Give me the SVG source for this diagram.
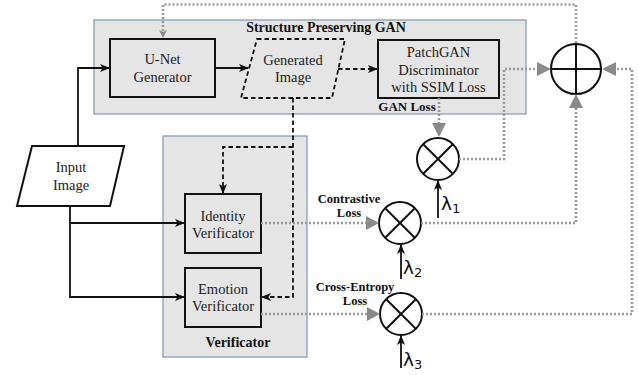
<svg xmlns="http://www.w3.org/2000/svg" width="639" height="375" viewBox="0 0 639 375">
<defs>
<style>
.grp{fill:#e5e5e5;stroke:#7f96b2;stroke-width:1.2}
.box{fill:none;stroke:#111;stroke-width:2}
.t{font-family:"Liberation Serif","Times New Roman",serif;font-size:14.5px;fill:#222;text-anchor:middle}
.b{font-family:"Liberation Serif","Times New Roman",serif;font-weight:bold;fill:#111;text-anchor:middle}
.lam{font-family:"DejaVu Sans","Noto Sans",sans-serif;font-size:18.5px;fill:#111}
.sub{font-size:13px}
.solid{fill:none;stroke:#111;stroke-width:1.8}
.dash{fill:none;stroke:#111;stroke-width:1.8;stroke-dasharray:4.5 3}
.dot{fill:none;stroke:#9a9a9a;stroke-width:2.6;stroke-dasharray:2 2}
.circ{fill:none;stroke:#111;stroke-width:2}
.tri{fill:#8a8a8a}
</style>
<marker id="ah" viewBox="0 0 10 8" refX="9" refY="4" markerWidth="10" markerHeight="8" markerUnits="userSpaceOnUse" orient="auto">
<path d="M0,0 L10,4 L0,8 L2.5,4 z" fill="#111"/>
</marker>
</defs>
<rect width="639" height="375" fill="#fff"/>

<g id="gan-group">
<rect class="grp" x="94" y="20" width="432" height="94"/>
<text class="b" x="326" y="32" font-size="14">Structure Preserving GAN</text>
<text class="b" x="407" y="111" font-size="13">GAN Loss</text>
</g>
<g id="verificator-group">
<rect class="grp" x="163" y="136" width="144" height="221"/>
<text class="b" x="238" y="347" font-size="14">Verificator</text>
</g>

<g id="unet">
<rect class="box" x="110" y="39" width="105" height="58"/>
<text class="t" x="162.5" y="64">U-Net</text>
<text class="t" x="162.5" y="82">Generator</text>
</g>
<g id="generated">
<polygon points="257,39 345,39 332,98 241,98" fill="none" stroke="#111" stroke-width="1.8" stroke-dasharray="4.5 3"/>
<text class="t" x="293" y="65">Generated</text>
<text class="t" x="293" y="82">Image</text>
</g>
<g id="patchgan">
<rect class="box" x="378" y="40" width="121" height="58"/>
<text class="t" x="438.5" y="57">PatchGAN</text>
<text class="t" x="438.5" y="75">Discriminator</text>
<text class="t" x="438.5" y="92">with SSIM Loss</text>
</g>
<g id="input">
<polygon points="32,146 124,146 110,206 17,206" fill="#fff" stroke="#111" stroke-width="2"/>
<text class="t" x="71" y="172">Input</text>
<text class="t" x="71" y="190">Image</text>
</g>
<g id="identity">
<rect class="box" x="185" y="194" width="76" height="59"/>
<text class="t" x="223" y="221">Identity</text>
<text class="t" x="223" y="238">Verificator</text>
</g>
<g id="emotion">
<rect class="box" x="185" y="268" width="76" height="59"/>
<text class="t" x="223" y="294">Emotion</text>
<text class="t" x="223" y="311">Verificator</text>
</g>

<g id="sum">
<circle class="circ" cx="576" cy="69" r="25"/>
<path class="circ" d="M551,69 H601 M576,44 V94"/>
</g>
<g id="mul1">
<circle class="circ" cx="438" cy="159" r="21"/>
<path class="circ" d="M423.2,144.2 L452.8,173.8 M452.8,144.2 L423.2,173.8"/>
</g>
<g id="mul2">
<circle class="circ" cx="400" cy="223" r="21"/>
<path class="circ" d="M385.2,208.2 L414.8,237.8 M414.8,208.2 L385.2,237.8"/>
<text class="b" x="349" y="203" font-size="12.5">Contrastive</text>
<text class="b" x="349" y="217" font-size="12.5">Loss</text>
</g>
<g id="mul3">
<circle class="circ" cx="401" cy="314" r="21"/>
<path class="circ" d="M386.2,299.2 L415.8,328.8 M415.8,299.2 L386.2,328.8"/>
<text class="b" x="355" y="291" font-size="12.5">Cross-Entropy</text>
<text class="b" x="355" y="305" font-size="12.5">Loss</text>
</g>
<g id="lambda1"><text class="lam" x="441" y="210">λ<tspan class="sub" dy="3">1</tspan></text></g>
<g id="lambda2"><text class="lam" x="403" y="274">λ<tspan class="sub" dy="3">2</tspan></text></g>
<g id="lambda3"><text class="lam" x="403" y="366">λ<tspan class="sub" dy="3">3</tspan></text></g>

<g id="connectors">
<path class="solid" d="M78,146 V68 H109" marker-end="url(#ah)"/>
<path class="solid" d="M215,68 H248" marker-end="url(#ah)"/>
<path class="solid" d="M70,206 V297 H184" marker-end="url(#ah)"/>
<path class="solid" d="M70,223 H184" marker-end="url(#ah)"/>
<path class="dash" d="M338,69 H377" marker-end="url(#ah)"/>
<path class="dash" d="M293,98 V297 H262" marker-end="url(#ah)"/>
<path class="dash" d="M293,147 H223 V193" marker-end="url(#ah)"/>
<path class="solid" d="M438,218 V181" marker-end="url(#ah)"/>
<path class="solid" d="M401,279 V245" marker-end="url(#ah)"/>
<path class="solid" d="M401,368 V336" marker-end="url(#ah)"/>

<path class="dot" d="M163,31 V4.5 H576 V44"/>
<path d="M159,30 L163,38 L167,30 L163,32 z" fill="#8a8a8a"/>
<path class="dot" d="M439,98 V124"/>
<polygon class="tri" points="432,123 446,123 439,137"/>
<path class="dot" d="M459,159 H504 V69 H538"/>
<polygon class="tri" points="537,62 537,76 551,69"/>
<path class="dot" d="M261,223 H367"/>
<polygon class="tri" points="366,216 366,230 379,223"/>
<path class="dot" d="M261,314 H368"/>
<polygon class="tri" points="367,307 367,321 380,314"/>
<path class="dot" d="M421,223 H576 V107"/>
<polygon class="tri" points="569,108 583,108 576,94"/>
<path class="dot" d="M422,314 H632 V69 H615"/>
<polygon class="tri" points="616,62 616,76 602,69"/>
</g>
</svg>
